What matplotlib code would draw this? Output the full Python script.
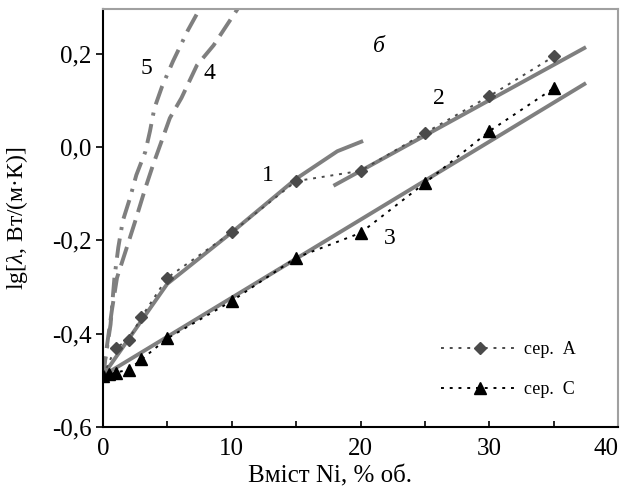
import matplotlib
matplotlib.use("Agg")
import matplotlib.pyplot as plt
from matplotlib.ticker import FuncFormatter, MultipleLocator

plt.rcParams['font.family'] = ['Liberation Serif', 'DejaVu Serif']
plt.rcParams['mathtext.fontset'] = 'custom'
plt.rcParams['mathtext.rm'] = 'Liberation Serif'
plt.rcParams['mathtext.it'] = 'Liberation Serif:italic'

# experimental points
ser_a_x = [0, 1, 2, 3, 5, 10, 15, 20, 25, 30, 35]
ser_a_y = [-0.49, -0.43, -0.413, -0.364, -0.28, -0.183, -0.073, -0.051, 0.03, 0.109, 0.194]
ser_c_x = [0, 0.5, 1, 2, 3, 5, 10, 15, 20, 25, 30, 35]
ser_c_y = [-0.49, -0.487, -0.483, -0.477, -0.455, -0.41, -0.33, -0.237, -0.184, -0.077, 0.034, 0.126]

# model curves
c1_x = [0, 5, 10, 15, 18.2, 20.2]
c1_y = [-0.49, -0.293, -0.183, -0.068, -0.009, 0.013]
c2_x = [17.9, 37.5]
c2_y = [-0.083, 0.214]
c3_x = [0, 37.5]
c3_y = [-0.49, 0.137]
c4_x = [0, 0.7, 1.1, 1.85, 2.5, 3.3, 3.9, 4.5, 5.2, 6.1, 7.3, 8.6, 9.6, 10.8]
c4_y = [-0.49, -0.35, -0.28, -0.216, -0.16, -0.088, -0.038, 0.008, 0.062, 0.105, 0.175, 0.218, 0.26, 0.31]
c5_x = [0, 0.6, 0.9, 1.2, 1.55, 2.1, 2.6, 3.3, 3.66, 4.0, 4.6, 5.45, 6.6, 7.8]
c5_y = [-0.49, -0.38, -0.28, -0.215, -0.158, -0.11, -0.06, -0.01, 0.034, 0.083, 0.13, 0.184, 0.25, 0.31]

labels = ['1', '2', '3', '4', '5']
label_x = [12.8, 26.1, 22.3, 8.3, 3.4]
label_y = [-0.062, 0.105, -0.195, 0.158, 0.169]

fig = plt.figure(figsize=(6.27, 4.91), dpi=100)
ax = fig.add_axes([0.164, 0.130, 0.822, 0.852])

gray = '#7f7f7f'
ax.plot(c1_x, c1_y, color=gray, lw=2.8, solid_capstyle='butt', zorder=2)
ax.plot(c2_x, c2_y, color=gray, lw=2.8, solid_capstyle='butt', zorder=2)
ax.plot(c3_x, c3_y, color=gray, lw=2.8, solid_capstyle='butt', zorder=2)
ax.plot(c4_x, c4_y, color=gray, lw=2.8, linestyle=(0, (5, 2.2)), zorder=2)
ax.plot(c5_x, c5_y, color=gray, lw=2.8, linestyle=(0, (5, 2.2, 0.8, 2.2)), zorder=2)

ax.plot(ser_a_x, ser_a_y, color='#4a4a4a', lw=1.4, linestyle=(0, (1.5, 3)),
        marker='D', markersize=6.5, markerfacecolor='#4a4a4a', markeredgecolor='#4a4a4a',
        zorder=3, label='сер.  А')
ax.plot(ser_c_x, ser_c_y, color='black', lw=1.4, linestyle=(0, (1.5, 3)),
        marker='^', markersize=9, markerfacecolor='black', markeredgecolor='black',
        zorder=4, label='сер.  С')

for t, x, y in zip(labels, label_x, label_y):
    ax.text(x, y, t, fontsize=17, ha='center', va='center')
ax.text(21.4, 0.215, 'б', fontsize=17, style='italic', ha='center', va='center')

ax.set_xlim(0, 40)
ax.set_ylim(-0.6, 0.296)
ax.xaxis.set_major_locator(MultipleLocator(10))
ax.xaxis.set_minor_locator(MultipleLocator(5))
ax.yaxis.set_major_locator(MultipleLocator(0.2))

fmt = FuncFormatter(lambda v, p: ('%.1f' % v).replace('.', ',').replace('-0,0', '0,0'))
ax.yaxis.set_major_formatter(fmt)
ax.xaxis.set_major_formatter(FuncFormatter(lambda v, p: '%d' % v))

ax.tick_params(axis='x', which='both', direction='in', length=4, width=1.2, labelsize=18, pad=8)
ax.tick_params(axis='y', direction='out', length=5, width=1.2, labelsize=18, pad=3)

fig.canvas.draw()
for lab in ax.get_xticklabels():
    if lab.get_text() == '40':
        lab.set_horizontalalignment('right')

for s in ['left', 'bottom']:
    ax.spines[s].set_color('black')
    ax.spines[s].set_linewidth(1.5)
for s in ['top', 'right']:
    ax.spines[s].set_color('#a0a0a0')
    ax.spines[s].set_linewidth(1.5)

ax.set_xlabel('Вміст Ni, % об.', fontsize=18)
ax.xaxis.set_label_coords(0.44, -0.092)
ax.set_ylabel('lg[$\\lambda$, Вт/(м·К)]', fontsize=17)
ax.yaxis.set_label_coords(-0.142, 0.5)

ax.legend(loc='lower right', bbox_to_anchor=(0.95, 0.03), frameon=False, fontsize=13,
          handlelength=4.3, labelspacing=1.3, handletextpad=0.3)

fig.savefig('out.png', dpi=100)
